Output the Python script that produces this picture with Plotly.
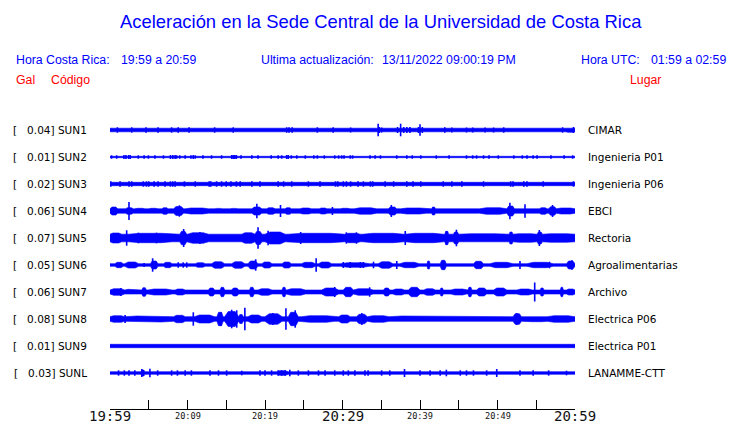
import plotly.graph_objects as go

# ---------------- data ----------------
codes = ["SUN1", "SUN2", "SUN3", "SUN4", "SUN5", "SUN6", "SUN7", "SUN8", "SUN9", "SUNL"]
peak_gal = [0.04, 0.01, 0.02, 0.06, 0.07, 0.05, 0.06, 0.08, 0.01, 0.03]
places = ["CIMAR", "Ingenieria P01", "Ingenieria P06", "EBCI", "Rectoria",
          "Agroalimentarias", "Archivo", "Electrica P06", "Electrica P01", "LANAMME-CTT"]

# minutes after 19:59 for the time axis
tick_minutes = [0, 5, 10, 15, 20, 25, 30, 35, 40, 45, 50, 55, 60]
tick_labels = ["19:59", "", "20:09", "", "20:19", "", "20:29", "", "20:39", "", "20:49", "", "20:59"]

# continuous background amplitude of each trace (relative units)
base_amp = [1.8, 0.7, 1.7, 2.2, 3.8, 1.3, 2.0, 2.3, 1.7, 1.3]

# bursts: (start minute, end minute, amplitude)
bursts_sun1 = [(58.8, 60.0, 2.3)]
bursts_sun2 = []
bursts_sun3 = []
bursts_sun4 = [(0, 1.0, 4.0), (2.0, 3.0, 3.3), (3.2, 4.5, 2.7), (5.0, 6.2, 2.7), (6.7, 7.5, 3.3),
               (8.2, 9.5, 4.5), (9.7, 12.7, 3.0), (13.5, 14.5, 2.6), (15.5, 16.5, 2.6),
               (18.3, 19.6, 4.0), (20.2, 21.3, 3.3), (22.6, 23.4, 3.3), (24.5, 26.0, 3.0),
               (27.0, 28.0, 3.0), (29.7, 31.0, 2.7), (31.5, 34.4, 3.2), (35.9, 37.0, 4.0),
               (37.5, 40.8, 3.0), (41.5, 42.0, 4.0), (43.0, 44.0, 2.7), (45.5, 46.5, 2.7),
               (47.7, 51.2, 3.3), (51.2, 52.2, 5.0), (55.4, 56.4, 3.3), (56.6, 57.6, 4.3),
               (57.6, 60.0, 3.0)]
bursts_sun5 = [(0, 1.5, 5.0), (2.4, 8.0, 4.7), (9.0, 9.9, 6.7), (10.0, 12.7, 5.3), (17.0, 18.7, 5.3),
               (18.7, 19.6, 6.5), (20.0, 22.6, 6.0), (23.0, 30.3, 4.7), (30.3, 32.3, 4.7),
               (32.6, 37.9, 4.7), (38.1, 43.0, 4.7), (43.2, 43.7, 6.7), (44.3, 45.0, 6.0),
               (45.0, 51.2, 4.3), (51.5, 52.0, 6.0), (52.0, 55.1, 4.3), (55.1, 55.8, 6.0),
               (55.8, 60.0, 4.3)]
bursts_sun6 = [(0.65, 1.7, 2.7), (1.9, 3.7, 3.0), (5.2, 6.2, 4.0), (6.9, 8.0, 2.7), (11.0, 12.3, 2.3),
               (13.1, 14.8, 3.3), (15.7, 17.4, 3.3), (17.8, 19.1, 4.0), (19.6, 20.9, 3.0),
               (22.2, 23.4, 3.0), (24.7, 26.5, 2.7), (26.9, 28.6, 3.0), (29.7, 33.5, 2.3),
               (34.6, 36.5, 3.3), (37.4, 39.9, 2.7), (40.9, 41.3, 4.0), (42.6, 43.4, 4.7),
               (46.9, 48.2, 3.7), (49.0, 52.0, 2.7), (53.8, 57.2, 2.7), (58.9, 60.0, 4.0)]
bursts_sun7 = [(0, 1.9, 3.3), (1.9, 3.7, 2.7), (4.1, 4.7, 4.3), (4.9, 8.0, 3.0), (8.4, 9.7, 3.0),
               (10.5, 12.3, 2.7), (12.7, 13.5, 4.0), (14.2, 14.8, 4.7), (15.7, 16.6, 4.0),
               (18.0, 18.6, 4.7), (19.1, 20.9, 3.3), (22.2, 22.7, 4.7), (22.8, 25.2, 3.3),
               (27.3, 29.5, 4.0), (30.1, 31.4, 4.7), (31.4, 34.0, 3.3), (35.3, 36.1, 4.0),
               (36.5, 38.0, 3.0), (38.5, 40.0, 4.7), (40.5, 42.0, 3.3), (42.6, 43.0, 4.0),
               (44.0, 46.0, 3.0), (46.2, 46.7, 4.7), (47.3, 48.6, 4.0), (49.5, 51.2, 4.0),
               (52.5, 54.5, 3.0), (55.5, 56.0, 4.0), (58.1, 58.5, 4.7), (58.9, 60.0, 3.0)]
bursts_sun8 = [(0, 1.9, 3.3), (1.9, 8.2, 3.0), (8.2, 9.7, 3.7), (10.9, 13.5, 4.0), (13.8, 14.6, 6.7),
               (14.8, 16.6, 7.5), (16.6, 17.2, 4.5), (17.8, 19.6, 4.0), (20.0, 22.2, 5.3),
               (23.0, 24.3, 6.7), (24.7, 29.0, 3.3), (29.5, 31.0, 4.0), (31.8, 33.2, 4.7),
               (33.2, 36.0, 3.3), (36.0, 42.6, 3.0), (42.6, 46.0, 2.7), (46.0, 51.5, 3.0),
               (52.0, 53.1, 5.3), (53.8, 56.4, 2.7), (56.4, 60.0, 3.3)]
bursts_sun9 = []
bursts_sunl = [(4.0, 4.5, 3.0), (21.5, 23.0, 2.3)]

# spikes: (minute, amplitude)
spikes_sun1 = [(0.95, 2.7), (2.8, 2.7), (4.65, 2.7), (6.2, 2.7), (7.95, 2.7), (8.8, 2.7), (10.2, 2.7),
               (13.5, 2.7), (15.9, 2.7), (22.8, 2.7), (23.1, 2.7), (23.5, 2.7), (26.75, 2.7),
               (28.8, 2.7), (31.05, 2.5), (34.6, 6.3), (34.75, 3.0), (35.05, 2.5), (37.1, 3.0),
               (37.5, 6.3), (37.9, 3.0), (38.3, 3.0), (38.7, 3.0), (39.8, 3.0), (40.0, 5.7),
               (40.3, 3.0), (43.2, 2.7), (44.1, 2.5), (46.0, 2.5), (46.8, 2.5), (48.4, 2.5),
               (49.5, 2.5), (50.8, 2.7), (58.4, 2.7), (59.8, 3.0)]
spikes_sun2 = [(0.2, 1.7), (0.86, 1.7), (1.8, 2.0), (2.06, 2.0), (2.4, 2.0), (2.6, 2.0), (3.65, 1.7),
               (4.4, 1.7), (4.95, 1.7), (5.8, 1.7), (6.9, 1.7), (7.8, 2.0), (8.1, 2.0), (8.4, 2.0),
               (8.6, 1.7), (9.0, 1.7), (9.7, 1.7), (10.45, 1.7), (10.75, 2.0), (11.0, 1.7),
               (12.0, 1.7), (13.1, 1.7), (14.4, 1.7), (15.7, 2.0), (15.9, 2.0), (16.1, 2.0),
               (16.3, 2.0), (16.9, 1.7), (18.3, 1.7), (19.1, 1.7), (20.8, 1.7), (21.7, 1.7),
               (22.15, 1.7), (22.8, 2.0), (23.0, 2.0), (23.4, 1.7), (24.1, 1.7), (25.2, 1.7),
               (26.3, 1.7), (26.75, 1.7), (27.65, 1.7), (29.0, 1.7), (29.5, 1.7), (29.9, 1.7),
               (30.2, 1.7), (31.0, 1.7), (31.3, 1.7), (33.55, 1.7), (34.2, 1.7), (34.9, 1.7),
               (37.0, 1.7), (38.3, 1.7), (39.0, 1.7), (40.1, 1.7), (42.1, 1.7), (43.75, 1.7),
               (46.0, 1.7), (46.8, 1.7), (47.3, 1.7), (48.2, 1.7), (48.9, 1.7), (50.1, 1.7),
               (52.1, 1.7), (53.2, 1.7), (53.8, 1.7), (54.6, 1.7), (55.1, 1.7), (56.9, 1.7),
               (58.6, 1.7), (59.7, 1.7)]
spikes_sun3 = [(0.1, 2.7), (1.3, 2.7), (2.45, 2.7), (2.8, 2.7), (4.3, 2.7), (4.7, 2.7), (5.0, 2.7),
               (5.7, 2.7), (6.2, 2.7), (7.1, 2.7), (7.8, 2.7), (8.1, 2.7), (8.4, 2.7), (9.6, 2.7),
               (11.0, 2.7), (12.8, 2.7), (13.0, 2.7), (13.75, 2.7), (14.4, 2.7), (15.0, 2.7),
               (15.6, 2.7), (16.3, 2.7), (16.8, 2.7), (18.3, 2.7), (19.35, 2.7), (21.7, 2.7),
               (22.4, 2.7), (23.45, 2.7), (25.6, 2.7), (27.1, 2.7), (29.1, 2.7), (29.4, 2.7),
               (30.1, 2.7), (30.5, 2.7), (31.05, 2.7), (32.0, 2.7), (32.7, 2.7), (33.6, 2.7),
               (33.9, 2.7), (35.5, 2.7), (36.6, 2.7), (38.3, 2.7), (39.1, 2.7), (40.1, 2.7),
               (43.0, 2.7), (44.1, 2.7), (45.4, 2.7), (48.2, 2.7), (51.7, 2.7), (52.0, 2.7),
               (53.4, 2.7), (53.8, 2.7), (55.9, 2.7), (59.8, 2.7)]
spikes_sun4 = [(0.55, 4.0), (2.45, 9.0), (8.95, 5.7), (18.95, 7.3), (22.0, 6.0), (28.7, 4.0),
               (36.3, 6.0), (41.7, 4.0), (51.6, 8.3), (53.55, 6.7), (57.1, 6.0)]
spikes_sun5 = [(2.15, 7.7), (3.65, 5.3), (6.0, 5.3), (9.5, 9.0), (11.6, 6.0), (19.1, 10.7),
               (20.4, 7.3), (24.6, 6.0), (30.5, 5.7), (31.8, 5.7), (38.1, 7.0), (43.4, 6.7),
               (44.7, 8.3), (51.7, 6.0), (55.4, 8.0)]
spikes_sun6 = [(4.4, 2.0), (5.5, 6.7), (8.8, 2.7), (9.45, 2.7), (9.9, 2.7), (18.8, 5.7), (26.6, 6.7),
               (30.1, 3.0), (31.0, 3.0), (32.3, 3.0), (32.7, 3.0), (34.0, 3.3), (37.0, 4.0),
               (43.1, 4.3), (52.9, 4.0), (56.7, 3.3), (59.6, 4.7)]
spikes_sun7 = [(1.4, 4.0), (29.0, 5.0), (33.5, 4.7), (46.4, 4.7), (54.8, 9.5)]
spikes_sun8 = [(1.95, 4.0), (10.75, 6.7), (14.3, 7.0), (15.7, 9.3), (16.35, 8.7), (17.4, 11.3),
               (21.0, 6.0), (22.7, 10.7), (23.9, 8.7), (32.5, 6.0), (52.5, 6.0)]
spikes_sun9 = []
spikes_sunl = [(1.1, 2.7), (1.85, 2.7), (2.45, 2.7), (3.2, 2.7), (4.1, 4.0), (5.15, 4.3), (6.15, 2.7),
               (7.95, 2.7), (8.7, 2.7), (9.7, 2.7), (10.5, 2.7), (12.9, 2.7), (14.0, 2.7),
               (15.05, 2.7), (17.0, 2.3), (19.35, 2.7), (20.0, 2.7), (20.85, 2.7), (21.7, 2.7),
               (22.15, 2.7), (22.6, 2.7), (23.2, 3.3), (24.3, 2.7), (25.6, 2.7), (26.9, 2.7),
               (27.75, 2.7), (29.0, 2.7), (30.1, 2.7), (30.75, 2.7), (31.6, 2.7), (32.9, 2.7),
               (33.3, 2.7), (35.05, 2.7), (36.1, 2.7), (38.0, 4.0), (40.0, 2.7), (41.3, 2.7),
               (42.6, 2.7), (43.4, 3.3), (45.2, 2.7), (46.0, 2.7), (46.9, 2.7), (48.6, 2.7),
               (49.9, 4.0), (52.9, 2.7), (54.6, 2.7), (56.6, 2.7), (58.9, 2.3)]

bursts_all = [bursts_sun1, bursts_sun2, bursts_sun3, bursts_sun4, bursts_sun5,
              bursts_sun6, bursts_sun7, bursts_sun8, bursts_sun9, bursts_sunl]
spikes_all = [spikes_sun1, spikes_sun2, spikes_sun3, spikes_sun4, spikes_sun5,
              spikes_sun6, spikes_sun7, spikes_sun8, spikes_sun9, spikes_sunl]

# ---------------- layout helpers ----------------
W, H = 740, 423
ML, MR, MT, MB = 110, 165, 100, 14
PW, PH = W - ML - MR, H - MT - MB
AMP = 1.0 / 27.0          # amplitude units -> trace spacing units
T0, T1 = tick_minutes[0], tick_minutes[-1]
Y_TOP, Y_BOT = 30.0 / 27.0, -(H - MB - 130) / 27.0

def px_x(px):
    return (px - ML) / PW

def px_y(py):
    return (H - MB - py) / PH

BLUE = "#0000FF"
RED = "#FF0000"

fig = go.Figure()

for i, code in enumerate(codes):
    off = -i
    b = base_amp[i]
    # upper envelope outline: background level with spindle-shaped bursts
    ux, ua = [T0], [b]
    for (t0, t1, a) in sorted(bursts_all[i]):
        d = 0.25 * (t1 - t0)
        ux += [t0, t0 + d, t1 - d, t1]
        ua += [b, max(a, b), max(a, b), b]
    ux += [T1]
    ua += [b]
    xs = ux + ux[::-1] + [ux[0]]
    ys = [off + v * AMP for v in ua] + [off - v * AMP for v in ua[::-1]] + [off + ua[0] * AMP]
    fig.add_trace(go.Scatter(x=xs, y=ys, mode="lines", fill="toself", fillcolor=BLUE,
                             line=dict(color=BLUE, width=0.6), hoverinfo="skip", showlegend=False))
    sx, sy = [], []
    for (t, a) in spikes_all[i]:
        sx += [t, t, None]
        sy += [off - a * AMP, off + a * AMP, None]
    if sx:
        fig.add_trace(go.Scatter(x=sx, y=sy, mode="lines", line=dict(color=BLUE, width=1.6),
                                 hoverinfo="skip", showlegend=False))

ann = []
def text(px, py, s, size, color, family, anchor="left"):
    ann.append(dict(x=px_x(px), y=px_y(py), xref="paper", yref="paper", text=s, showarrow=False,
                    xanchor=anchor, yanchor="middle", font=dict(size=size, color=color, family=family)))

SANS = "Liberation Sans, Arial, sans-serif"
DJ = "DejaVu Sans, sans-serif"
MONO = "DejaVu Sans Mono, monospace"

text(381, 22, "Aceleración en la Sede Central de la Universidad de Costa Rica", 18.4, BLUE, SANS, "center")
text(14, 60, "Hora Costa Rica:", 12.3, BLUE, SANS)
text(119, 60, "19:59 a 20:59", 12.3, BLUE, SANS)
text(259, 60, "Ultima actualización:", 12.3, BLUE, SANS)
text(380, 60, "13/11/2022 09:00:19 PM", 12.3, BLUE, SANS)
text(579, 60, "Hora UTC:", 12.3, BLUE, SANS)
text(649, 60, "01:59 a 02:59", 12.3, BLUE, SANS)
text(14, 80, "Gal", 12.3, RED, SANS)
text(49, 80, "Código", 12.3, RED, SANS)
text(628, 80, "Lugar", 12.3, RED, SANS)

for i, code in enumerate(codes):
    py = 130 + 27 * i
    lab = "[\u00a0\u00a0\u00a0%.2f] %s" % (peak_gal[i], code)
    text(89, py, lab, 10.5, "black", DJ, "right")
    text(586, py, places[i], 10.5, "black", DJ, "left")

for t, lab in zip(tick_minutes, tick_labels):
    if not lab:
        continue
    major = (t % 30 == 0)
    ann.append(dict(x=t, y=px_y(416 if major else 415.5), xref="x", yref="paper", text=lab,
                    showarrow=False, xanchor="center", yanchor="middle",
                    font=dict(size=14 if major else 8.6, color="#111111", family=MONO)))

fig.update_layout(
    width=W, height=H, margin=dict(l=ML, r=MR, t=MT, b=MB, pad=0),
    paper_bgcolor="white", plot_bgcolor="white", annotations=ann,
    xaxis=dict(range=[T0, T1], tickvals=tick_minutes, ticktext=[""] * len(tick_minutes),
               ticks="inside", ticklen=9, tickwidth=1, tickcolor="black", showline=True,
               linecolor="black", linewidth=1, showgrid=False, zeroline=False, fixedrange=True),
    yaxis=dict(range=[Y_BOT, Y_TOP], visible=False, fixedrange=True),
)
fig.write_html("out.html", config={"displayModeBar": False},
               post_script="document.body.style.margin='0';document.body.style.overflow='hidden';")
